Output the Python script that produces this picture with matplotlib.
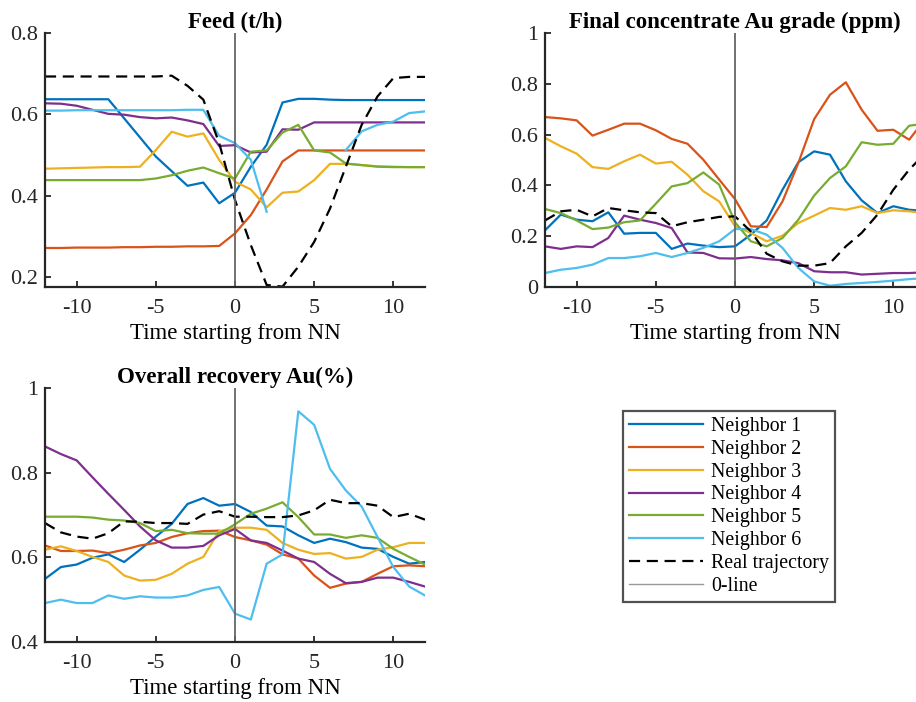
import numpy as np
import matplotlib
matplotlib.use('Agg')
import matplotlib.pyplot as plt
from matplotlib.lines import Line2D
from matplotlib.ticker import FormatStrFormatter

plt.rcParams['font.family'] = ['Liberation Serif', 'DejaVu Serif']
plt.rcParams['axes.unicode_minus'] = False

# Tempo relativo ao vizinho mais proximo (NN)
t = np.arange(-12, 13)

nomes = ['Neighbor 1', 'Neighbor 2', 'Neighbor 3', 'Neighbor 4', 'Neighbor 5', 'Neighbor 6']
cores = ['#0072BD', '#D95319', '#EDB120', '#7E2F8E', '#77AC30', '#4DBEEE']

# Feed (t/h)
feed_n1 = [0.637, 0.637, 0.637, 0.637, 0.637, 0.590, 0.543, 0.496, 0.460, 0.424, 0.432, 0.381, 0.407,
           0.471, 0.525, 0.629, 0.638, 0.638, 0.636, 0.635, 0.635, 0.635, 0.635, 0.635, 0.635]
feed_n2 = [0.271, 0.271, 0.272, 0.272, 0.272, 0.273, 0.273, 0.274, 0.274, 0.275, 0.275, 0.276, 0.307,
           0.352, 0.415, 0.484, 0.511, 0.511, 0.511, 0.511, 0.511, 0.511, 0.511, 0.511, 0.511]
feed_n3 = [0.466, 0.467, 0.468, 0.469, 0.470, 0.470, 0.471, 0.512, 0.557, 0.545, 0.553, 0.488, 0.434,
           0.415, 0.371, 0.407, 0.410, 0.438, 0.478, 0.478, 0.475, 0.472, 0.471, 0.470, 0.470]
feed_n4 = [0.627, 0.626, 0.621, 0.611, 0.601, 0.599, 0.593, 0.590, 0.592, 0.585, 0.576, 0.522, 0.524,
           0.506, 0.508, 0.563, 0.562, 0.580, 0.580, 0.580, 0.580, 0.580, 0.580, 0.580, 0.580]
feed_n5 = [0.438, 0.438, 0.438, 0.438, 0.438, 0.438, 0.438, 0.442, 0.450, 0.461, 0.469, 0.455, 0.442,
           0.508, 0.511, 0.555, 0.574, 0.511, 0.506, 0.479, 0.475, 0.471, 0.470, 0.470, 0.470]
feed_n6 = [0.609, 0.609, 0.610, 0.610, 0.610, 0.610, 0.610, 0.610, 0.610, 0.611, 0.611, 0.547, 0.529,
           0.488, 0.360, np.nan, np.nan, np.nan, np.nan, 0.512, 0.558, 0.574, 0.582, 0.603, 0.607]
feed_real = [0.693, 0.693, 0.693, 0.693, 0.693, 0.693, 0.693, 0.693, 0.695, 0.670, 0.636, 0.529, 0.389,
             0.278, 0.180, 0.176, 0.225, 0.286, 0.368, 0.471, 0.574, 0.644, 0.689, 0.692, 0.692]

# Final concentrate Au grade (ppm)
grade_n1 = [0.223, 0.285, 0.265, 0.259, 0.294, 0.210, 0.213, 0.213, 0.150, 0.171, 0.163, 0.157, 0.160,
            0.206, 0.262, 0.383, 0.491, 0.534, 0.521, 0.416, 0.341, 0.291, 0.318, 0.304, 0.300]
grade_n2 = [0.669, 0.664, 0.656, 0.596, 0.619, 0.643, 0.643, 0.617, 0.583, 0.564, 0.501, 0.423, 0.346,
            0.239, 0.236, 0.337, 0.488, 0.661, 0.757, 0.806, 0.698, 0.615, 0.619, 0.580, 0.660]
grade_n3 = [0.587, 0.554, 0.525, 0.472, 0.465, 0.495, 0.521, 0.486, 0.493, 0.442, 0.377, 0.337, 0.239,
            0.213, 0.180, 0.202, 0.252, 0.281, 0.311, 0.304, 0.318, 0.291, 0.302, 0.298, 0.291]
grade_n4 = [0.160, 0.150, 0.160, 0.157, 0.193, 0.281, 0.265, 0.252, 0.232, 0.136, 0.134, 0.113, 0.112,
            0.118, 0.110, 0.105, 0.094, 0.062, 0.058, 0.058, 0.049, 0.052, 0.055, 0.055, 0.058]
grade_n5 = [0.307, 0.291, 0.262, 0.228, 0.234, 0.255, 0.262, 0.328, 0.396, 0.409, 0.451, 0.403, 0.255,
            0.180, 0.160, 0.193, 0.265, 0.360, 0.429, 0.475, 0.570, 0.560, 0.564, 0.635, 0.643]
grade_n6 = [0.055, 0.068, 0.075, 0.088, 0.114, 0.114, 0.121, 0.134, 0.118, 0.134, 0.154, 0.180, 0.228,
            0.228, 0.206, 0.154, 0.075, 0.022, 0.005, 0.012, 0.016, 0.020, 0.025, 0.031, 0.035]
grade_real = [0.262, 0.298, 0.304, 0.278, 0.311, 0.302, 0.294, 0.291, 0.239, 0.255, 0.265, 0.276, 0.278,
              0.219, 0.131, 0.101, 0.084, 0.084, 0.094, 0.160, 0.213, 0.285, 0.383, 0.462, 0.525]

# Overall recovery Au(%)
rec_n1 = [0.549, 0.577, 0.583, 0.599, 0.607, 0.589, 0.618, 0.649, 0.679, 0.726, 0.740, 0.722, 0.726,
          0.707, 0.675, 0.673, 0.652, 0.634, 0.644, 0.636, 0.623, 0.620, 0.601, 0.585, 0.589]
rec_n2 = [0.628, 0.615, 0.615, 0.616, 0.610, 0.618, 0.628, 0.634, 0.648, 0.657, 0.662, 0.663, 0.648,
          0.640, 0.630, 0.607, 0.597, 0.557, 0.528, 0.538, 0.542, 0.561, 0.579, 0.581, 0.579]
rec_n3 = [0.618, 0.626, 0.615, 0.601, 0.589, 0.557, 0.545, 0.547, 0.561, 0.585, 0.601, 0.662, 0.670,
          0.670, 0.665, 0.634, 0.618, 0.608, 0.610, 0.597, 0.601, 0.618, 0.624, 0.634, 0.634]
rec_n4 = [0.862, 0.844, 0.829, 0.789, 0.750, 0.712, 0.673, 0.640, 0.623, 0.623, 0.627, 0.652, 0.667,
          0.640, 0.634, 0.616, 0.597, 0.589, 0.561, 0.539, 0.542, 0.552, 0.552, 0.542, 0.531]
rec_n5 = [0.696, 0.696, 0.696, 0.694, 0.689, 0.687, 0.681, 0.662, 0.665, 0.657, 0.656, 0.656, 0.678,
          0.703, 0.715, 0.730, 0.695, 0.654, 0.654, 0.646, 0.652, 0.646, 0.620, 0.601, 0.583]
rec_n6 = [0.492, 0.500, 0.492, 0.492, 0.510, 0.502, 0.508, 0.505, 0.505, 0.510, 0.523, 0.530, 0.467,
          0.453, 0.585, 0.607, 0.945, 0.913, 0.809, 0.758, 0.720, 0.648, 0.577, 0.531, 0.510]
rec_real = [0.681, 0.659, 0.649, 0.644, 0.657, 0.685, 0.684, 0.681, 0.681, 0.679, 0.701, 0.709, 0.696,
            0.696, 0.695, 0.695, 0.699, 0.711, 0.736, 0.728, 0.728, 0.722, 0.695, 0.703, 0.689]

paineis = [
    ('Feed (t/h)', [feed_n1, feed_n2, feed_n3, feed_n4, feed_n5, feed_n6], feed_real,
     (0.175, 0.8), [0.2, 0.4, 0.6, 0.8], [45, 287, 380, 254]),
    ('Final concentrate Au grade (ppm)', [grade_n1, grade_n2, grade_n3, grade_n4, grade_n5, grade_n6], grade_real,
     (0, 1), [0, 0.2, 0.4, 0.6, 0.8, 1], [545, 287, 380, 254]),
    ('Overall recovery Au(%)', [rec_n1, rec_n2, rec_n3, rec_n4, rec_n5, rec_n6], rec_real,
     (0.4, 1), [0.4, 0.6, 0.8, 1], [45, 642, 380, 254]),
]

W, H = 916, 702
fig = plt.figure(figsize=(W / 100, H / 100), dpi=100)

for titulo, vizinhos, real, ylim, yticks, (x0, yb, w, h) in paineis:
    ax = fig.add_axes([x0 / W, (H - yb) / H, w / W, h / H])
    for serie, cor, nome in zip(vizinhos, cores, nomes):
        ax.plot(t, serie, color=cor, lw=1.6, label=nome)
    ax.plot(t, real, color='black', lw=1.6, linestyle=(0, (5, 3)), label='Real trajectory')
    ax.axvline(0, color='#666666', lw=1.3)
    ax.set_xlim(-12, 12)
    ax.set_ylim(*ylim)
    ax.set_xticks([-10, -5, 0, 5, 10])
    ax.set_yticks(yticks)
    ax.yaxis.set_major_formatter(FormatStrFormatter('%g'))
    ax.set_title(titulo, fontsize=16.5, fontweight='bold', pad=2)
    ax.set_xlabel('Time starting from NN', fontsize=16.5, labelpad=3)
    for lado in ['top', 'right']:
        ax.spines[lado].set_visible(False)
    for lado in ['left', 'bottom']:
        ax.spines[lado].set_linewidth(1.6)
        ax.spines[lado].set_color('#262626')
    ax.tick_params(direction='in', length=4, width=1.3, labelsize=16, colors='#262626')
    ax.tick_params(axis='y', pad=5)
    ax.tick_params(axis='x', pad=9)

# Legenda comum
handles = [Line2D([], [], color=c, lw=1.6) for c in cores]
handles.append(Line2D([], [], color='black', lw=1.6, linestyle=(0, (5, 3))))
handles.append(Line2D([], [], color='#999999', lw=1.0))
rotulos = nomes + ['Real trajectory', '0-line']
leg = fig.legend(handles, rotulos, loc='upper left', bbox_to_anchor=(623 / W, 1 - 411 / H),
                 fontsize=14.3, frameon=True, fancybox=False, handlelength=3.75,
                 labelspacing=0.2, borderpad=0.28, handletextpad=0.4, borderaxespad=0)
leg.get_frame().set_edgecolor('#262626')
leg.get_frame().set_linewidth(1.6)

fig.savefig('out.png', dpi=100)
